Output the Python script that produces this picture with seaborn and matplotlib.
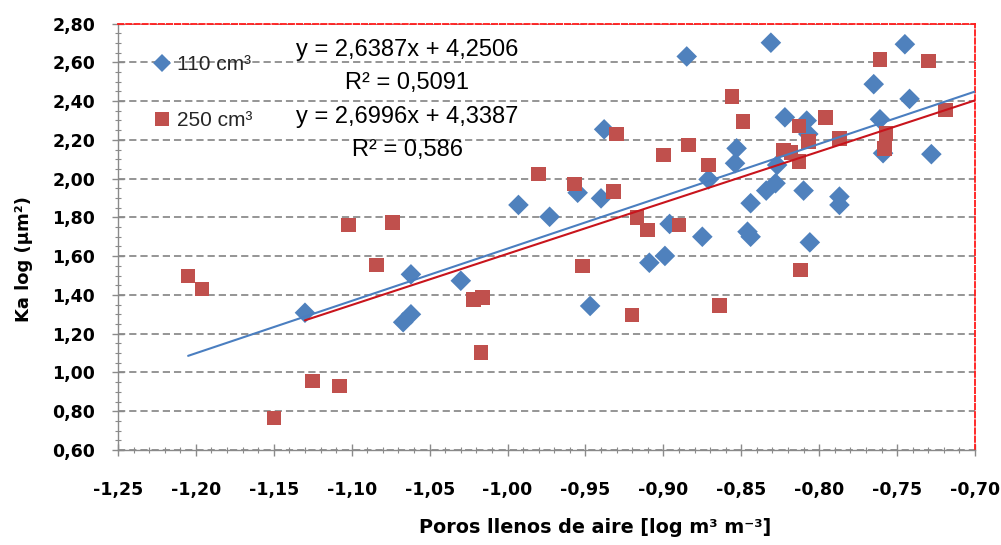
import numpy as np
import pandas as pd
import matplotlib
matplotlib.use("Agg")
import matplotlib.pyplot as plt
from matplotlib.ticker import MultipleLocator, FuncFormatter
import seaborn as sns

# ---- data ----
x_110 = [-1.130, -1.067, -1.062, -1.062, -1.030, -0.993, -0.973, -0.955, -0.940, -0.947,
         -0.938, -0.909, -0.899, -0.896, -0.885, -0.875, -0.871, -0.853, -0.854, -0.846,
         -0.844, -0.844, -0.834, -0.831, -0.828, -0.827, -0.822, -0.808, -0.807, -0.810,
         -0.806, -0.787, -0.787, -0.765, -0.761, -0.759, -0.745, -0.742, -0.728]
y_110 = [1.308, 1.259, 1.300, 1.506, 1.473, 1.864, 1.803, 1.927, 1.898, 1.343,
         2.254, 1.566, 1.601, 1.766, 2.630, 1.700, 1.996, 2.156, 2.079, 1.726,
         1.700, 1.873, 1.938, 2.701, 1.976, 2.070, 2.316, 2.299, 2.230, 1.938,
         1.671, 1.907, 1.864, 2.487, 2.306, 2.131, 2.693, 2.411, 2.126]

x_250 = [-1.205, -1.196, -1.150, -1.125, -1.108, -1.102, -1.074, -1.084, -1.022, -1.016,
         -1.017, -0.980, -0.957, -0.952, -0.932, -0.930, -0.920, -0.917, -0.910, -0.900,
         -0.890, -0.884, -0.871, -0.864, -0.856, -0.849, -0.823, -0.818, -0.813, -0.813,
         -0.812, -0.807, -0.796, -0.787, -0.761, -0.757, -0.758, -0.730, -0.719]
y_250 = [1.498, 1.430, 0.764, 0.957, 0.930, 1.761, 1.773, 1.554, 1.377, 1.387,
         1.104, 2.024, 1.972, 1.549, 1.932, 2.229, 1.296, 1.800, 1.735, 2.122,
         1.761, 2.173, 2.070, 1.344, 2.423, 2.294, 2.148, 2.134, 2.087, 2.271,
         1.529, 2.190, 2.316, 2.208, 2.615, 2.234, 2.156, 2.607, 2.354]

series_names = ["110 cm\u00b3", "250 cm\u00b3"]
slopes = [2.6387, 2.6996]
intercepts = [4.2506, 4.3387]
r2_values = ["0,5091", "0,586"]

x_ticks = [-1.25, -1.20, -1.15, -1.10, -1.05, -1.00, -0.95, -0.90, -0.85, -0.80, -0.75, -0.70]
y_ticks = [0.60, 0.80, 1.00, 1.20, 1.40, 1.60, 1.80, 2.00, 2.20, 2.40, 2.60, 2.80]

x_label = "Poros llenos de aire [log m\u00b3 m\u207b\u00b3]"
y_label = "Ka log (\u00b5m\u00b2)"

# ---- styling ----
sns.set_theme(style="white")
plt.rcParams["font.family"] = ["Liberation Sans", "DejaVu Sans"]

blue = "#4F81BD"
red = "#C0504D"
line_red = "#C8141C"
line_blue = "#4A7EC0"

df = pd.DataFrame({
    "x": x_110 + x_250,
    "y": y_110 + y_250,
    "serie": [series_names[0]] * len(x_110) + [series_names[1]] * len(x_250),
})

fig = plt.figure(figsize=(10.01, 5.45), dpi=100)
ax = fig.add_axes([118 / 1001, 1 - 450 / 545, (975 - 118) / 1001, (450 - 23.5) / 545])

ax.set_xlim(x_ticks[0], x_ticks[-1])
ax.set_ylim(y_ticks[0], y_ticks[-1])

# grid
ax.yaxis.grid(True, color="#8C8C8C", linestyle=(0, (4, 2.2)), linewidth=1.3, zorder=0)
ax.xaxis.grid(False)
ax.set_axisbelow(True)

sns.scatterplot(data=df, x="x", y="y", hue="serie", style="serie",
                palette={series_names[0]: blue, series_names[1]: red},
                markers={series_names[0]: "D", series_names[1]: "s"},
                s=110, linewidth=0, ax=ax, zorder=2, legend=True)

# trend lines (as in reference: 110 trend in red, 250 trend in blue)
xs_all = [x_110, x_250]
line_colors = [line_red, line_blue]
for k in range(2):
    x0 = min(xs_all[k])
    x1 = x_ticks[-1]
    xx = np.array([x0, x1])
    ldf = pd.DataFrame({"x": xx, "y": slopes[k] * xx + intercepts[k]})
    sns.lineplot(data=ldf, x="x", y="y", color=line_colors[k], linewidth=1.5,
                 ax=ax, zorder=3, legend=False)

# axes styling
for side in ["left", "bottom"]:
    ax.spines[side].set_color("#8A8A8A")
    ax.spines[side].set_linewidth(1.0)
for side in ["top", "right"]:
    ax.spines[side].set_color("#FF1A1A")
    ax.spines[side].set_linewidth(1.3)
    ax.spines[side].set_linestyle((0, (3, 1.5)))

ax.set_xticks(x_ticks)
ax.set_yticks(y_ticks)
ax.xaxis.set_minor_locator(MultipleLocator(0.01))
ax.yaxis.set_minor_locator(MultipleLocator(0.05))
fmt = FuncFormatter(lambda v, p: f"{v:.2f}".replace(".", ","))
ax.xaxis.set_major_formatter(fmt)
ax.yaxis.set_major_formatter(fmt)

ax.tick_params(axis="both", which="major", direction="inout", length=9, width=1,
               color="#8A8A8A", labelsize=12.5, labelcolor="black")
ax.tick_params(axis="both", which="minor", direction="inout", length=5, width=0.8,
               color="#8A8A8A")
ax.tick_params(axis="x", which="both", bottom=True, top=False)
ax.tick_params(axis="y", which="both", left=True, right=False)
ax.tick_params(axis="y", which="major", pad=12)
ax.tick_params(axis="x", which="major", pad=18)
for lab in ax.get_xticklabels() + ax.get_yticklabels():
    lab.set_fontweight("bold")
    lab.set_family("DejaVu Sans")

ax.set_xlabel(x_label, fontsize=13.8, fontweight="bold", color="black", family="DejaVu Sans")
ax.set_ylabel(y_label, fontsize=13, fontweight="bold", color="black", family="DejaVu Sans")
ax.xaxis.set_label_coords(0.5 + (595 - 546.5) / 857, (450 - 518) / 426.5)
ax.yaxis.set_label_coords((33 - 118) / 857, 0.5 + (259 - 236.75) / -426.5)

# legend
leg = ax.legend(loc="upper left", bbox_to_anchor=(141 / 1001, 1 - 47 / 545),
                bbox_transform=fig.transFigure, frameon=False, fontsize=15,
                handletextpad=0.15, labelspacing=1.75, borderaxespad=0,
                handlelength=1.2, title=None)
for h in leg.legend_handles:
    h.set_markersize(9.5)

# equations
eq_x = 407 / 1001
eq_rows = [50, 83, 117, 150]
texts = []
for k in range(2):
    texts.append(f"y = {slopes[k]:.4f}x + {intercepts[k]:.4f}".replace(".", ","))
    texts.append(f"R\u00b2 = {r2_values[k]}")
for t, py in zip(texts, eq_rows):
    fig.text(eq_x, 1 - py / 545, t, ha="center", va="center", fontsize=17, color="black")

fig.savefig("out.png", dpi=100)
